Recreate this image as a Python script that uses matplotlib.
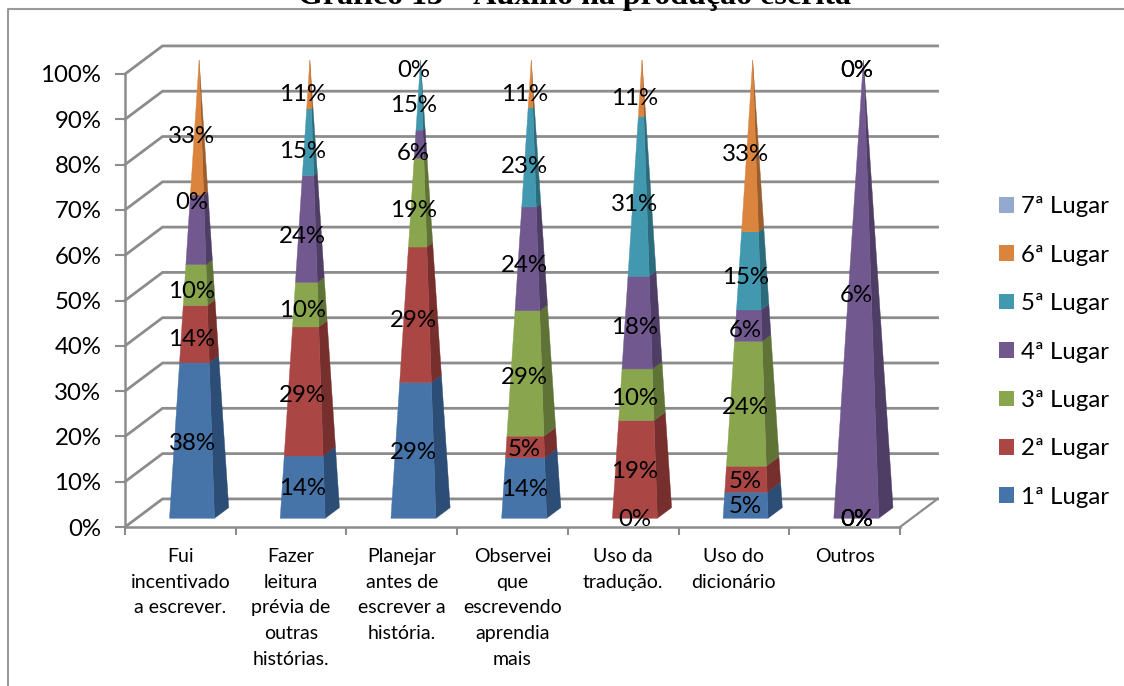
from matplotlib import pyplot as plt
from matplotlib.lines import Line2D
from matplotlib.patches import Patch, Polygon
import numpy as np

plt.rcParams['font.family'] = ['Lato', 'DejaVu Sans']

categories = ['Fui\nincentivado\na escrever.',
              'Fazer\nleitura\nprévia de\noutras\nhistórias.',
              'Planejar\nantes de\nescrever a\nhistória.',
              'Observei\nque\nescrevendo\naprendia\nmais',
              'Uso da\ntradução.',
              'Uso do\ndicionário',
              'Outros']
ranks = ['1ª Lugar', '2ª Lugar', '3ª Lugar', '4ª Lugar', '5ª Lugar', '6ª Lugar', '7ª Lugar']

rank1 = [38, 14, 29, 14, 0, 5, 0]
rank2 = [14, 29, 29, 5, 19, 5, 0]
rank3 = [10, 10, 19, 29, 10, 24, 0]
rank4 = [17, 24, 6, 24, 18, 6, 6]
rank5 = [0, 15, 15, 23, 31, 15, 0]
rank6 = [33, 11, 0, 11, 11, 33, 0]
rank7 = [0, 0, 0, 0, 0, 0, 0]

front_colors = ['#4674A9', '#AA4643', '#89A54E', '#71588F', '#4198AF', '#DB843D', '#93A9CF']
side_colors = ['#2C4D75', '#772F2D', '#5F7336', '#4E3D64', '#2C6B7B', '#9B5D2B', '#66768F']
grid_color = '#8C8C8C'

# oblique projection of the depth axis, in data units
depth_x = 0.339
depth_y = 6.2
half_width = 0.203
depth_near = 0.31
depth_far = 0.69


def corner(col, side, depth, height):
    # one point of a pyramid; side and depth shrink towards the apex at 100
    taper = 1 - height / 100
    d = 0.5 + (depth - 0.5) * taper
    return (col + 0.5 + side * half_width * taper + depth_x * d, height + depth_y * d)


def draw_slice(ax, col, low, high, front, side):
    face = [corner(col, -1, depth_near, low), corner(col, 1, depth_near, low),
            corner(col, 1, depth_near, high), corner(col, -1, depth_near, high)]
    right = [corner(col, 1, depth_near, low), corner(col, 1, depth_far, low),
             corner(col, 1, depth_far, high), corner(col, 1, depth_near, high)]
    ax.add_patch(Polygon(right, closed=True, fc=side, ec=side, lw=0.3, zorder=3, clip_on=False))
    ax.add_patch(Polygon(face, closed=True, fc=front, ec=front, lw=0.3, zorder=4, clip_on=False))


fig = plt.figure(figsize=(11.24, 6.86), dpi=100)
ax = fig.add_axes([125 / 1124, 1 - 527 / 686, 775 / 1124, 453 / 686])
ax.set_xlim(0, 7)
ax.set_ylim(0, 100)
ax.patch.set_visible(False)

# back wall, side wall and floor
for tick in range(0, 101, 10):
    ax.plot([0, depth_x, 7 + depth_x], [tick, tick + depth_y, tick + depth_y],
            color=grid_color, lw=2.0, zorder=1, clip_on=False, solid_joinstyle='miter')
ax.plot([7, 7 + depth_x], [0, depth_y], color=grid_color, lw=1.6, zorder=1, clip_on=False)

for name, spine in ax.spines.items():
    spine.set_visible(name in ('left', 'bottom'))
    spine.set_color(grid_color)
    spine.set_linewidth(1.8)

ax.set_yticks(range(0, 101, 10))
ax.set_yticklabels(['{}%'.format(t) for t in range(0, 101, 10)], fontsize=17.3, color='black')
ax.set_xticks(range(8))
ax.set_xticklabels([])
ax.set_xticks(np.arange(7) + 0.5, categories, minor=True, fontsize=14, linespacing=1.63,
              color='black')
ax.tick_params(axis='y', length=7, width=1.5, color=grid_color, pad=10)
ax.tick_params(axis='x', which='major', length=6, width=1.5, color=grid_color)
ax.tick_params(axis='x', which='minor', length=0, pad=15)

table = np.array([rank1, rank2, rank3, rank4, rank5, rank6, rank7], dtype=float)
# 100% stacked: every column is scaled to its own total
shares = table / table.sum(axis=0) * 100
tops = np.cumsum(shares, axis=0)
bottoms = tops - shares

for r in range(len(ranks)):
    for c in range(len(categories)):
        if shares[r, c] > 0:
            draw_slice(ax, c, bottoms[r, c], tops[r, c], front_colors[r], side_colors[r])

# rank 7 carries no labels, nor does rank 4 of the first column
for r in range(6):
    for c in range(len(categories)):
        if r == 3 and c == 0:
            continue
        mid = (bottoms[r, c] + tops[r, c]) / 2
        ax.text(c + 0.5 + depth_x * depth_near, 0.99 * mid + 1.7, '{:.0f}%'.format(table[r, c]),
                ha='center', va='center', fontsize=17.3, color='black', zorder=6, clip_on=False)

handles = [Patch(fc=front_colors[r], ec='none', label=ranks[r]) for r in range(len(ranks))][::-1]
fig.legend(handles=handles, loc='center left', bbox_to_anchor=(999 / 1124, 1 - 352 / 686),
           frameon=False, fontsize=17.3, handlelength=0.62, handleheight=0.62,
           handletextpad=0.3, labelspacing=1.14, borderpad=0, borderaxespad=0, labelcolor='black')

# chart frame and the heading cut by the page edge
fig.add_artist(Line2D([8 / 1124, 8 / 1124, 1], [0, 1 - 9 / 686, 1 - 9 / 686],
                      color='#9A9A9A', lw=1.5))
fig.text(574 / 1124, 1 - 4 / 686, 'Gráfico 13 – Auxílio na produção escrita', ha='center',
         va='baseline', fontsize=23, fontweight='bold', family='Liberation Serif', color='black')

fig.savefig('out.png', dpi=100)
